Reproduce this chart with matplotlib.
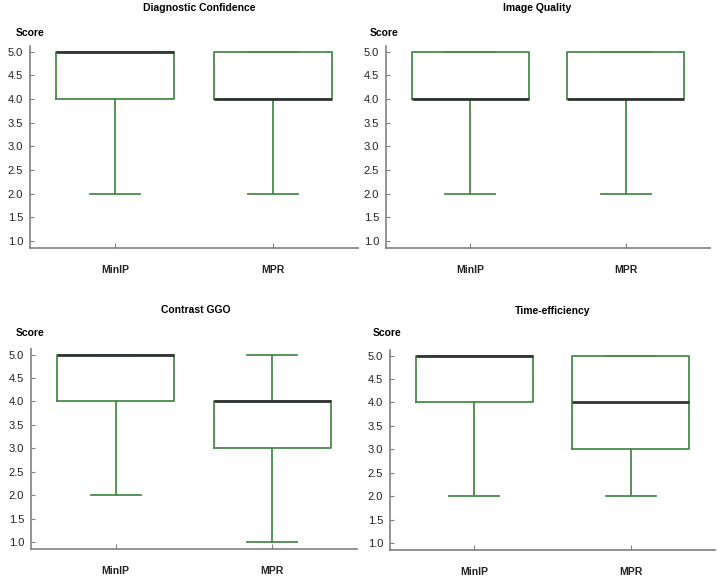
import matplotlib.pyplot as plt

plt.rcParams['font.family'] = ['Liberation Sans', 'DejaVu Sans']

# box stats
titles = ["Diagnostic Confidence", "Image Quality", "Contrast GGO", "Time-efficiency"]
groups = ["MinIP", "MPR"]
q1 = [[4, 4], [4, 4], [4, 3], [4, 3]]
med = [[5, 4], [4, 4], [5, 4], [5, 4]]
q3 = [[5, 5], [5, 5], [5, 4], [5, 5]]
whislo = [[2, 2], [2, 2], [2, 1], [2, 2]]
whishi = [[5, 5], [5, 5], [5, 5], [5, 5]]
yticks = [1.0, 1.5, 2.0, 2.5, 3.0, 3.5, 4.0, 4.5, 5.0]

W, H = 717, 579
green = "#4b8a4b"
spine = "#808080"

fig = plt.figure(figsize=(W / 100, H / 100), dpi=100)

# panel rects in pixels: left, right, bottom, top
rects = [(30, 358, 248, 46), (386, 710, 248, 46),
         (31, 357, 549, 349), (390, 715, 550, 350)]
title_pos = [(199, 8), (537, 8), (196, 310), (553, 311)]
score_pos = [(16, 33), (370, 33), (16, 333), (373, 333)]

for i in range(4):
    l, r, b, t = rects[i]
    ax = fig.add_axes([l / W, 1 - b / H, (r - l) / W, (b - t) / H])
    stats = []
    for j in range(2):
        stats.append(dict(med=med[i][j], q1=q1[i][j], q3=q3[i][j],
                          whislo=whislo[i][j], whishi=whishi[i][j], fliers=[]))
    ax.bxp(stats, positions=[1, 2], widths=0.75, capwidths=0.32,
           showfliers=False,
           boxprops=dict(color=green, linewidth=1.3),
           whiskerprops=dict(color=green, linewidth=1.3),
           capprops=dict(color=green, linewidth=1.3),
           medianprops=dict(color="#333333", linewidth=2.0))
    ax.set_xlim(0.46, 2.54)
    ax.set_ylim(0.85, 5.12)
    ax.set_yticks(yticks)
    ax.set_yticklabels(["%.1f" % v for v in yticks])
    ax.set_xticks([1, 2])
    ax.set_xticklabels(groups, fontweight="bold")
    for s in ["top", "right"]:
        ax.spines[s].set_visible(False)
    for s in ["left", "bottom"]:
        ax.spines[s].set_color(spine)
        ax.spines[s].set_linewidth(1.2)
    ax.tick_params(axis="y", direction="in", length=3, color=spine,
                   labelsize=8, pad=5, labelcolor="#222222")
    ax.tick_params(axis="x", direction="in", length=3.5, color=spine,
                   labelsize=7.5, pad=12, labelcolor="#222222")
    fig.text(title_pos[i][0] / W, 1 - title_pos[i][1] / H, titles[i],
             ha="center", va="center", fontsize=7.5, fontweight="bold")
    fig.text(score_pos[i][0] / W, 1 - score_pos[i][1] / H, "Score",
             ha="left", va="center", fontsize=7.5, fontweight="bold")

fig.savefig("out.png", dpi=100)
